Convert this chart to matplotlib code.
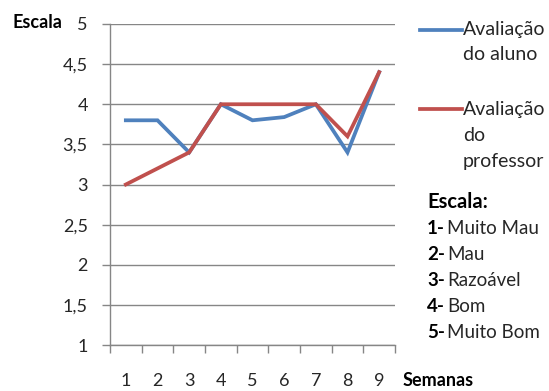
import matplotlib
matplotlib.use("Agg")
import matplotlib.pyplot as plt
from matplotlib.lines import Line2D

plt.rcParams['font.family'] = ['Lato', 'DejaVu Sans']

semanas = [1, 2, 3, 4, 5, 6, 7, 8, 9]
aluno = [3.8, 3.8, 3.4, 4.0, 3.8, 3.84, 4.0, 3.4, 4.4]
professor = [3.0, 3.2, 3.4, 4.0, 4.0, 4.0, 4.0, 3.6, 4.4]
y_ticks = [1, 1.5, 2, 2.5, 3, 3.5, 4, 4.5, 5]
y_labels = ["1", "1,5", "2", "2,5", "3", "3,5", "4", "4,5", "5"]
escala_num = ["1-", "2-", "3-", "4-", "5-"]
escala_txt = ["Muito Mau", "Mau", "Razoável", "Bom", "Muito Bom"]

BLUE = "#4F81BD"
RED = "#C0504D"
GRID = "#868686"
TXT = "#262626"

W, H = 549, 391
fig = plt.figure(figsize=(W / 100, H / 100), dpi=100)
ax = fig.add_axes([110 / W, 1 - 345 / H, 285 / W, (345 - 24) / H])

ax.plot(semanas, aluno, color=BLUE, lw=2.7, solid_joinstyle="miter", zorder=3)
ax.plot(semanas, professor, color=RED, lw=2.7, solid_joinstyle="miter", zorder=4)

ax.set_xlim(0.5, 9.5)
ax.set_ylim(1, 5)
ax.set_yticks(y_ticks)
ax.set_yticklabels(y_labels)
ax.set_xticks(semanas)
ax.set_xticklabels([str(s) for s in semanas])
ax.set_xticks([s + 0.5 for s in [0] + semanas], minor=True)

ax.grid(axis="y", color=GRID, lw=1.0, zorder=0)
for side in ("top", "right"):
    ax.spines[side].set_visible(False)
for side in ("left", "bottom"):
    ax.spines[side].set_color(GRID)
    ax.spines[side].set_linewidth(1.0)

ax.tick_params(axis="y", length=6, color=GRID, width=1.0, labelsize=13,
               labelcolor=TXT, pad=10)
ax.tick_params(axis="x", which="major", length=0, labelsize=13,
               labelcolor=TXT, pad=20)
ax.tick_params(axis="x", which="minor", length=6, color=GRID, width=1.0)


def px(x, y):
    return x / W, 1 - y / H


fig.text(*px(12, 22), "Escala", fontsize=13, fontweight="bold", color="black",
         va="center", ha="left")
fig.text(*px(403, 380), "Semanas", fontsize=13, fontweight="bold",
         color="black", va="center", ha="left")

# legend entries
fig.add_artist(Line2D([420 / W, 462 / W], [1 - 30 / H, 1 - 30 / H],
                      color=BLUE, lw=2.7, transform=fig.transFigure))
fig.text(*px(463, 30), "Avaliação", fontsize=14, color=TXT, va="center")
fig.text(*px(463, 55), "do aluno", fontsize=14, color=TXT, va="center")

fig.add_artist(Line2D([420 / W, 462 / W], [1 - 109 / H, 1 - 109 / H],
                      color=RED, lw=2.7, transform=fig.transFigure))
fig.text(*px(463, 109), "Avaliação", fontsize=14, color=TXT, va="center")
fig.text(*px(463, 135), "do", fontsize=14, color=TXT, va="center")
fig.text(*px(463, 161), "professor", fontsize=14, color=TXT, va="center")

# scale description
fig.text(*px(427, 202), "Escala:", fontsize=14.5, fontweight="bold",
         color="black", va="center")
for i, (n, t) in enumerate(zip(escala_num, escala_txt)):
    yy = 229 + i * 26
    fig.text(*px(427, yy), n, fontsize=13.5, fontweight="bold", color="black",
             va="center")
    fig.text(*px(447, yy), t, fontsize=13.5, color=TXT, va="center")

fig.savefig("out.png", dpi=100)
